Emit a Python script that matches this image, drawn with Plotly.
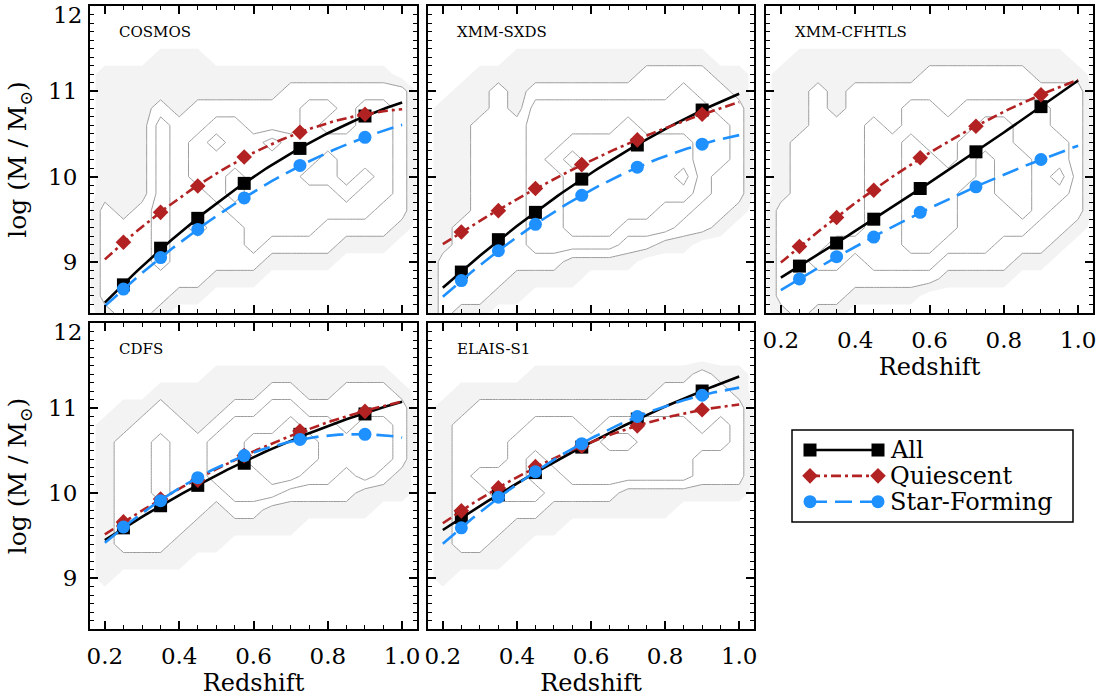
import numpy as np
import plotly.graph_objects as go

# ---------------- data ----------------
redshift = [0.25, 0.35, 0.45, 0.575, 0.725, 0.9]
fit_range = [0.2, 1.0]

field_names = ["COSMOS", "XMM-SXDS", "XMM-CFHTLS", "CDFS", "ELAIS-S1"]
series_names = ["All", "Quiescent", "Star-Forming"]

cosmos_all = [8.73, 9.16, 9.51, 9.92, 10.33, 10.71]
cosmos_q = [9.23, 9.58, 9.89, 10.23, 10.52, 10.73]
cosmos_sf = [8.68, 9.05, 9.38, 9.75, 10.13, 10.46]

sxds_all = [8.88, 9.26, 9.58, 9.97, 10.37, 10.78]
sxds_q = [9.35, 9.60, 9.86, 10.14, 10.43, 10.73]
sxds_sf = [8.78, 9.13, 9.44, 9.78, 10.11, 10.38]

cfhtls_all = [8.95, 9.22, 9.50, 9.86, 10.29, 10.82]
cfhtls_q = [9.18, 9.52, 9.84, 10.22, 10.59, 10.96]
cfhtls_sf = [8.80, 9.06, 9.29, 9.58, 9.88, 10.20]

cdfs_all = [9.59, 9.85, 10.09, 10.35, 10.69, 10.93]
cdfs_q = [9.66, 9.93, 10.15, 10.44, 10.73, 10.96]
cdfs_sf = [9.60, 9.91, 10.18, 10.44, 10.63, 10.69]

elais_all = [9.71, 9.98, 10.24, 10.54, 10.87, 11.20]
elais_q = [9.79, 10.06, 10.31, 10.55, 10.79, 10.98]
elais_sf = [9.59, 9.95, 10.25, 10.58, 10.90, 11.15]

x_tick_values = [0.2, 0.4, 0.6, 0.8, 1.0]
y_tick_values = [9, 10, 11]

# galaxy density grid (0 empty, 1 scattered points, 2..5 contour levels)
density_z = [0.15, 0.20, 0.25, 0.30, 0.35, 0.40, 0.45, 0.50, 0.55, 0.60,
             0.65, 0.70, 0.75, 0.80, 0.85, 0.90, 0.95, 1.00, 1.05]
density_logm = [11.8, 11.6, 11.4, 11.2, 11.0, 10.8, 10.6, 10.4, 10.2,
                10.0, 9.8, 9.6, 9.4, 9.2, 9.0, 8.8, 8.6, 8.4]

cosmos_density = [
    "0000000000000000000",
    "0000000000000000000",
    "0000111000000000000",
    "0111111111111111100",
    "0111111111122222220",
    "0111212222223323320",
    "0111322332223223320",
    "0111323433433333320",
    "0111323333333433320",
    "0111323323334434320",
    "0111322323333343320",
    "0212322233333333220",
    "0222323223333222210",
    "0222322223222211100",
    "0222322222111100000",
    "0222222111000000000",
    "0222211000000000000",
    "0122100000000000000",
]
sxds_density = [
    "0000000000000000000",
    "0000000000000000000",
    "0000011111111111000",
    "0001111111112222110",
    "0011212222222232210",
    "0111213333333333220",
    "0112223333343333320",
    "0112223344444443320",
    "0112223434444443320",
    "0112223344444453220",
    "0112223344444443220",
    "0112223344444332210",
    "0122223344433322100",
    "0122223333322110000",
    "0222222211110000000",
    "0222211110000000000",
    "0222110000000000000",
    "0211000000000000000",
]
cfhtls_density = [
    "0000000000000000000",
    "0000000000000000000",
    "0011111111111111100",
    "0111111112222221110",
    "0112122222222222220",
    "0112122233233333220",
    "0112223233334433220",
    "0122223343344433320",
    "0122223344343443320",
    "0122223344443443420",
    "0122223344433443320",
    "0222223344433343220",
    "0222223344433332210",
    "0222333344333222100",
    "0223323333222211000",
    "0222222222111100000",
    "0222211110000000000",
    "0121100000000000000",
]
cdfs_density = [
    "0000000000000000000",
    "0000000000000000000",
    "0000000111111111100",
    "0000111111221122210",
    "0011211122332222220",
    "0112221233343323320",
    "0122322334444333320",
    "0122322334444333320",
    "0122322333443323210",
    "0122322233322221110",
    "0122222122111111000",
    "0122221111110000000",
    "0122211100000000000",
    "0111110000000000000",
    "0100000000000000000",
    "0000000000000000000",
    "0000000000000000000",
    "0000000000000000000",
]
elais_density = [
    "0000000000000000000",
    "0000000000000000000",
    "0000001111111112110",
    "0011111111111222210",
    "0112222222222222220",
    "0122223332333332320",
    "0122233333443333320",
    "0122232333333332220",
    "0123332233333332220",
    "0122333222211111110",
    "0122222111111100000",
    "0122211100000000000",
    "0122110000000000000",
    "0111100000000000000",
    "0100000000000000000",
    "0000000000000000000",
    "0000000000000000000",
    "0000000000000000000",
]

# ---------------- styling ----------------
FONT = "DejaVu Serif"
W, H = 1099, 698
col_dom = [[90 / W, 417 / W], [428 / W, 754 / W], [766 / W, 1093 / W]]
row_dom = [[1 - 313 / H, 1 - 6 / H], [1 - 629 / H, 1 - 323 / H]]

series_style = [
    dict(color="black", dash="solid", symbol="square", size=13),
    dict(color="#b22222", dash="10px,4px,3px,4px", symbol="diamond", size=12),
    dict(color="#1e90ff", dash="17px,8px", symbol="circle", size=13),
]

panels = [
    ("COSMOS", [cosmos_all, cosmos_q, cosmos_sf], cosmos_density, 0, 0),
    ("XMM-SXDS", [sxds_all, sxds_q, sxds_sf], sxds_density, 0, 1),
    ("XMM-CFHTLS", [cfhtls_all, cfhtls_q, cfhtls_sf], cfhtls_density, 0, 2),
    ("CDFS", [cdfs_all, cdfs_q, cdfs_sf], cdfs_density, 1, 0),
    ("ELAIS-S1", [elais_all, elais_q, elais_sf], elais_density, 1, 1),
]

fig = go.Figure()
layout = dict(
    template=go.layout.Template(),
    width=W, height=H, margin=dict(l=0, r=0, t=0, b=0, pad=0),
    paper_bgcolor="white", plot_bgcolor="white", showlegend=False,
    font=dict(family=FONT, color="black"),
)
annotations = []
shapes = []

fit_z = np.linspace(fit_range[0], fit_range[1], 81)
grid_logm = density_logm[::-1]
halo_scale = [[0, "white"], [0.5, "#f3f3f3"], [1, "white"]]

for i, (name, series, dens, r, c) in enumerate(panels):
    n = i + 1
    xa = "x" if n == 1 else f"x{n}"
    ya = "y" if n == 1 else f"y{n}"
    zgrid = [[int(ch) for ch in row] for row in dens][::-1]
    assert all(len(row) == len(density_z) for row in zgrid)

    # faint band where only scattered galaxies are plotted
    fig.add_trace(go.Contour(
        x=density_z, y=grid_logm, z=zgrid, xaxis=xa, yaxis=ya,
        contours=dict(start=0.5, end=1.5, size=1, coloring="fill"),
        colorscale=halo_scale, zmin=0, zmax=2, zauto=False,
        line=dict(width=0, smoothing=0), showscale=False, hoverinfo="skip"))
    # density contours
    fig.add_trace(go.Contour(
        x=density_z, y=grid_logm, z=zgrid, xaxis=xa, yaxis=ya,
        contours=dict(start=1.5, end=4.5, size=1, coloring="lines"),
        colorscale=[[0, "#9c9c9c"], [1, "#9c9c9c"]],
        line=dict(width=1, smoothing=0), showscale=False, hoverinfo="skip"))

    for vals, st in zip(series, series_style):
        coef = np.polyfit(redshift, vals, 2)
        fig.add_trace(go.Scatter(
            x=fit_z, y=np.polyval(coef, fit_z), mode="lines", xaxis=xa, yaxis=ya,
            line=dict(color=st["color"], width=2.6, dash=st["dash"]),
            hoverinfo="skip"))
        fig.add_trace(go.Scatter(
            x=redshift, y=vals, mode="markers", xaxis=xa, yaxis=ya,
            marker=dict(color=st["color"], symbol=st["symbol"], size=st["size"],
                        line=dict(width=0))))

    show_x = (r == 1) or (r == 0 and c == 2)
    show_y = (c == 0)
    xkey = "xaxis" if n == 1 else f"xaxis{n}"
    ykey = "yaxis" if n == 1 else f"yaxis{n}"
    xcfg = dict(
        domain=col_dom[c], anchor=ya, range=[0.16, 1.04], automargin=False,
        tickmode="array", tickvals=x_tick_values,
        ticktext=[f"{v:.1f}" for v in x_tick_values],
        ticks="inside", ticklen=8, tickwidth=1.5, tickcolor="black",
        showline=True, linewidth=2, linecolor="black", mirror="allticks",
        showgrid=False, zeroline=False,
        minor=dict(ticks="inside", ticklen=4, tickwidth=1.2, tickcolor="black",
                   tickmode="linear", tick0=0.2, dtick=0.05, showgrid=False),
        showticklabels=show_x, ticklabelstandoff=5,
        tickfont=dict(family=FONT, size=23, color="black"),
    )
    if show_x:
        xcfg["title"] = dict(text="Redshift", standoff=2,
                             font=dict(family=FONT, size=24, color="black"))
    ycfg = dict(
        domain=row_dom[r], anchor=xa, range=[8.4, 12.0], automargin=False,
        tickmode="array", tickvals=y_tick_values,
        ticktext=[str(v) for v in y_tick_values],
        ticks="inside", ticklen=8, tickwidth=1.5, tickcolor="black",
        showline=True, linewidth=2, linecolor="black", mirror="allticks",
        showgrid=False, zeroline=False,
        minor=dict(ticks="inside", ticklen=4, tickwidth=1.2, tickcolor="black",
                   tickmode="linear", tick0=8.4, dtick=0.1, showgrid=False),
        showticklabels=show_y, ticklabelstandoff=6,
        tickfont=dict(family=FONT, size=23, color="black"),
    )
    if show_y:
        ycfg["title"] = dict(text="log (M / M<sub>⊙</sub>)", standoff=14,
                             font=dict(family=FONT, size=25, color="black"))
        annotations.append(dict(
            text="12", x=0, xref=f"{xa} domain", xanchor="right", xshift=-6,
            y=12, yref=ya, yanchor="middle", yshift=-9, showarrow=False,
            font=dict(family=FONT, size=23, color="black")))
    layout[xkey] = xcfg
    layout[ykey] = ycfg
    annotations.append(dict(
        text=name, x=27 / 327, xref=f"{xa} domain", xanchor="left",
        y=1 - 26 / 307, yref=f"{ya} domain", yanchor="middle", showarrow=False,
        font=dict(family=FONT, size=15, color="black")))

# ---------------- legend (drawn in the empty sixth cell) ----------------
layout["xaxis6"] = dict(domain=[810 / W, 878 / W], range=[0, 1], anchor="y6",
                        visible=False, fixedrange=True, automargin=False)
layout["yaxis6"] = dict(domain=[1 - 514.6 / H, 1 - 437.1 / H], range=[2.5, -0.5],
                        anchor="x6", visible=False, fixedrange=True, automargin=False)
for k, (sname, st) in enumerate(zip(series_names, series_style)):
    fig.add_trace(go.Scatter(
        x=[0, 1], y=[k, k], mode="lines+markers", xaxis="x6", yaxis="y6",
        cliponaxis=False, hoverinfo="skip",
        line=dict(color=st["color"], width=2.6, dash=st["dash"]),
        marker=dict(color=st["color"], symbol=st["symbol"], size=st["size"])))
    annotations.append(dict(
        text=sname, x=888 / W, xref="paper", xanchor="left", y=k, yref="y6",
        yanchor="middle", showarrow=False,
        font=dict(family=FONT, size=24, color="black")))
shapes.append(dict(type="rect", xref="paper", yref="paper",
                   x0=792 / W, x1=1073 / W, y0=1 - 522 / H, y1=1 - 430 / H,
                   line=dict(color="black", width=1.5), fillcolor="rgba(0,0,0,0)"))

layout["annotations"] = annotations
layout["shapes"] = shapes
fig.update_layout(**layout)

fig.write_html("out.html", config={"displayModeBar": False})
with open("out.html", "r", encoding="utf-8") as f:
    html = f.read()
html = html.replace("<body>", '<body style="margin:0;overflow:hidden">', 1)
with open("out.html", "w", encoding="utf-8") as f:
    f.write(html)
